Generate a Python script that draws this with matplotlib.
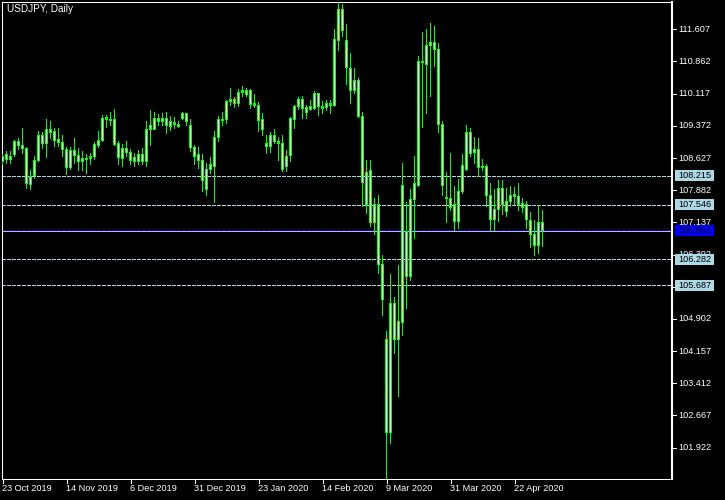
import matplotlib
matplotlib.use('Agg')
import matplotlib.pyplot as plt
from matplotlib.patches import Rectangle
from matplotlib.transforms import blended_transform_factory

plt.rcParams['font.family'] = ['Liberation Sans', 'DejaVu Sans']

symbol_title = "USDJPY, Daily"

opens = [108.54, 108.70, 108.60, 108.71, 109.00, 108.91, 108.85, 108.02, 108.22, 108.57,
         109.14, 108.97, 109.28, 109.25, 109.06, 108.99, 108.83, 108.41, 108.81, 108.68,
         108.54, 108.62, 108.61, 108.66, 108.91, 109.03, 109.56, 109.49, 109.52, 108.96,
         108.62, 108.85, 108.75, 108.54, 108.72, 108.54, 108.54, 109.28, 109.29, 109.55,
         109.47, 109.55, 109.35, 109.44, 109.41, 109.55, 109.65, 109.39, 108.88, 108.71,
         108.58, 107.90, 108.37, 108.44, 109.11, 109.52, 109.52, 109.93, 109.99, 109.88,
         110.14, 110.20, 110.20, 109.88, 109.85, 109.51, 108.97, 108.89, 109.16, 109.02,
         108.97, 108.43, 108.68, 109.52, 109.82, 109.99, 109.79, 109.76, 109.78, 110.11,
         109.82, 109.79, 109.88, 109.85, 111.34, 112.07, 111.34, 110.70, 110.19, 110.43,
         109.58, 107.56, 108.35, 107.13, 107.54, 106.17, 104.43, 102.28, 105.26, 104.43,
         104.82, 106.92, 105.88, 107.66, 108.00, 110.83, 110.80, 111.23, 111.31, 111.14,
         109.41, 107.72, 107.70, 107.56, 107.15, 107.85, 108.35, 109.22, 108.75, 108.83,
         108.41, 108.43, 107.76, 107.21, 107.44, 107.93, 107.62, 107.62, 107.73, 107.73,
         107.58, 107.56, 107.19, 106.86, 106.60, 107.14]
highs = [108.72, 108.77, 108.78, 109.04, 109.08, 109.30, 108.88, 108.33, 108.67, 109.25,
         109.21, 109.51, 109.48, 109.32, 109.30, 109.16, 108.88, 108.88, 109.08, 108.85,
         108.77, 108.72, 108.74, 108.98, 109.23, 109.62, 109.61, 109.69, 109.74, 109.01,
         108.93, 109.00, 108.83, 108.74, 108.81, 108.85, 109.47, 109.72, 109.69, 109.64,
         109.65, 109.69, 109.58, 109.56, 109.47, 109.69, 109.66, 109.51, 108.91, 108.88,
         108.70, 108.51, 108.64, 109.24, 109.60, 109.68, 109.97, 110.23, 110.03, 110.22,
         110.29, 110.24, 110.22, 110.10, 109.91, 109.66, 109.16, 109.21, 109.28, 109.10,
         109.16, 108.81, 109.57, 109.85, 110.02, 110.05, 109.85, 109.97, 110.16, 110.13,
         109.93, 109.97, 109.97, 111.61, 112.22, 112.19, 111.71, 111.05, 110.70, 110.46,
         109.69, 108.58, 108.56, 107.70, 107.75, 106.36, 104.61, 105.94, 105.39, 106.13,
         108.51, 107.59, 107.89, 108.67, 110.97, 111.53, 111.61, 111.73, 111.68, 111.27,
         109.48, 108.30, 108.74, 107.96, 108.12, 108.70, 109.39, 109.30, 109.11, 109.07,
         108.60, 108.48, 108.04, 107.89, 108.10, 108.10, 107.93, 107.96, 107.94, 108.04,
         107.70, 107.63, 107.36, 107.19, 107.52, 107.42]
lows = [108.47, 108.51, 108.51, 108.66, 108.83, 108.74, 107.92, 107.90, 108.15, 108.54,
        108.85, 108.64, 109.08, 108.89, 108.89, 108.66, 108.25, 108.37, 108.51, 108.33,
        108.33, 108.26, 108.47, 108.60, 108.87, 109.01, 109.34, 109.38, 108.91, 108.47,
        108.43, 108.66, 108.47, 108.43, 108.47, 108.47, 108.44, 108.91, 109.28, 109.37,
        109.39, 109.20, 109.26, 109.32, 109.33, 109.52, 109.37, 108.77, 108.47, 108.39,
        107.85, 107.77, 108.27, 107.59, 109.01, 109.39, 109.43, 109.85, 109.80, 109.83,
        110.05, 110.05, 109.78, 109.80, 109.25, 109.16, 108.74, 108.75, 108.97, 108.58,
        108.31, 108.31, 108.54, 109.32, 109.74, 109.55, 109.55, 109.72, 109.75, 109.61,
        109.66, 109.72, 109.65, 109.83, 111.11, 111.45, 110.32, 109.88, 110.11, 109.56,
        107.50, 107.35, 107.04, 106.85, 105.96, 104.99, 101.18, 102.02, 104.11, 103.10,
        104.53, 105.15, 105.80, 106.77, 107.96, 109.34, 109.65, 110.06, 110.74, 109.21,
        107.76, 107.13, 107.42, 106.96, 107.00, 107.81, 108.33, 108.66, 108.49, 108.20,
        108.33, 107.50, 106.96, 106.96, 107.15, 107.32, 107.27, 107.50, 107.54, 107.42,
        107.36, 107.00, 106.55, 106.38, 106.42, 106.59]
closes = [108.67, 108.60, 108.67, 109.00, 108.91, 108.85, 108.03, 108.20, 108.58, 109.16,
          108.97, 109.29, 109.21, 109.03, 108.98, 108.83, 108.40, 108.81, 108.68, 108.54,
          108.62, 108.60, 108.66, 108.93, 109.04, 109.55, 109.51, 109.53, 108.95, 108.64,
          108.85, 108.75, 108.57, 108.65, 108.54, 108.72, 109.29, 109.37, 109.55, 109.47,
          109.55, 109.39, 109.47, 109.41, 109.35, 109.65, 109.47, 108.87, 108.66, 108.57,
          108.10, 108.37, 108.47, 109.11, 109.52, 109.49, 109.93, 109.99, 109.89, 110.15,
          110.18, 110.10, 109.87, 109.84, 109.49, 109.29, 108.89, 109.16, 109.01, 108.97,
          108.37, 108.67, 109.55, 109.83, 109.99, 109.78, 109.68, 109.82, 110.11, 109.82,
          109.78, 109.88, 109.85, 111.38, 112.07, 111.57, 110.72, 110.19, 110.43, 109.58,
          108.06, 108.29, 107.13, 107.54, 106.17, 105.36, 102.28, 105.26, 104.43, 104.84,
          108.00, 105.88, 107.66, 108.03, 110.86, 110.87, 111.24, 111.31, 111.14, 109.41,
          107.99, 107.68, 107.48, 107.15, 107.85, 108.46, 109.22, 108.74, 108.83, 108.41,
          108.44, 107.76, 107.21, 107.44, 107.93, 107.56, 107.40, 107.76, 107.79, 107.56,
          107.49, 107.21, 106.86, 106.60, 107.14, 106.951]

xtick_bars = [0, 16, 32, 48, 64, 80, 96, 112, 128]
xtick_labels = ['23 Oct 2019', '14 Nov 2019', '6 Dec 2019', '31 Dec 2019', '23 Jan 2020',
                '14 Feb 2020', '9 Mar 2020', '31 Mar 2020', '22 Apr 2020']
ytick_values = [111.607, 110.862, 110.117, 109.372, 108.627, 107.882, 107.137,
                106.392, 105.647, 104.902, 104.157, 103.412, 102.667, 101.922]
level_values = [108.215, 107.546, 106.282, 105.687]
last_price = closes[-1]

# ---- layout (pixels) ----
W, H = 725, 500
L, R, T, B = 2, 672, 2, 479
PX_PER_BAR = 4.0
X0 = 2.5
Y_TOP, Y_BOT = 112.239, 101.197

GREEN = '#00FF00'
LBLUE = '#ADD8E6'
FS = 6.6

fig = plt.figure(figsize=(W / 100, H / 100), dpi=100, facecolor='black')
ax = fig.add_axes([L / W, 1 - B / H, (R - L) / W, (B - T) / H])
ax.set_facecolor('black')
ax.set_xlim((L - X0) / PX_PER_BAR, (R - X0) / PX_PER_BAR)
ax.set_ylim(Y_BOT, Y_TOP)
ax.set_xticks([])
ax.set_yticks([])
for s in ax.spines.values():
    s.set_color('white')
    s.set_linewidth(0.75)
ax.spines['right'].set_linewidth(1.5)

ppx = (Y_TOP - Y_BOT) / (B - T)   # price per pixel
axw = R - L                        # axes width px
axh = B - T
bar_px = 1.0 / PX_PER_BAR          # one pixel in bar units

# candles: wick, green body (3 px), white inner (1 px)
idx = list(range(len(opens)))
wicks = ax.vlines(idx, lows, highs, colors=GREEN, linewidth=0.72, zorder=3,
                  antialiased=False)
wicks.set_snap(False)
bottoms = [min(o, c) for o, c in zip(opens, closes)]
heights = [max(abs(c - o), ppx) for o, c in zip(opens, closes)]
outer = ax.bar(idx, heights, bottom=bottoms, width=3 * bar_px, color=GREEN,
               linewidth=0, zorder=4)
in_idx = [i for i, h in zip(idx, heights) if h > 2.5 * ppx]
in_bot = [bottoms[i] + ppx for i in in_idx]
in_h = [heights[i] - 2 * ppx for i in in_idx]
inner = ax.bar(in_idx, in_h, bottom=in_bot, width=bar_px, color='white',
               linewidth=0, zorder=5)
for p in list(outer) + list(inner):
    p.set_snap(False)
    p.set_antialiased(False)

# horizontal levels
for v in level_values:
    ax.axhline(v, color=LBLUE, linewidth=0.72, linestyle=(0, (3, 2)), zorder=2,
               antialiased=False)
ax.axhline(last_price - ppx, color='#C0C0C0', linewidth=0.72, zorder=2,
           antialiased=False)
ax.axhline(last_price, color='#0000FF', linewidth=0.72, linestyle=(0, (3, 2)),
           zorder=2.5, antialiased=False)

ytr = ax.get_yaxis_transform()
# right axis ticks and labels
for v in ytick_values:
    ax.plot([1.0, 1.0 + 4 / axw], [v, v], color='white', linewidth=0.75,
            transform=ytr, clip_on=False)
    ax.text((678 - L) / axw, v, f'{v:.3f}', color='white', fontsize=FS,
            ha='left', va='center', transform=ytr, clip_on=False, zorder=3)

# price boxes
def price_box(v, fc):
    ax.add_patch(Rectangle((1.0 + 3 / axw, v - 5.5 * ppx), 39 / axw, 11 * ppx,
                           facecolor=fc, edgecolor='none', transform=ytr,
                           clip_on=False, zorder=6))
    ax.text((678 - L) / axw, v, f'{v:.3f}', color='black', fontsize=FS,
            ha='left', va='center', transform=ytr, clip_on=False, zorder=7)

for v in level_values:
    price_box(v, LBLUE)
price_box(last_price, '#0000FF')

# bottom axis ticks and labels
xtr = blended_transform_factory(ax.transData, ax.transAxes)
for b, lab in zip(xtick_bars, xtick_labels):
    ax.plot([b, b], [0, -4 / axh], color='white', linewidth=0.75,
            transform=xtr, clip_on=False)
    ax.text(b - 0.1, -9.5 / axh, lab, color='white', fontsize=FS,
            ha='left', va='center', transform=xtr, clip_on=False)

fig.text(7 / W, 1 - 12 / H, symbol_title, color='white', fontsize=7.2,
         ha='left', va='baseline')

fig.savefig('out.png', dpi=100, facecolor='black')
